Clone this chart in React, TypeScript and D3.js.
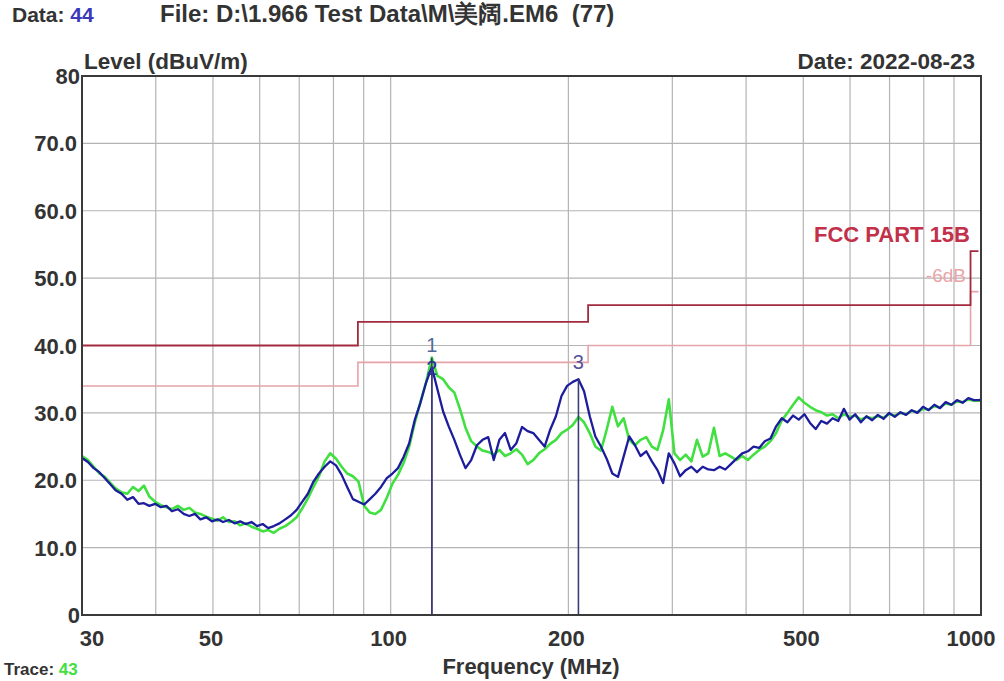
import React from "react";
import * as d3 from "d3";

const freqs = [30,30.7,31.4,32.1,32.8,33.5,34.2,35,35.8,36.6,37.4,38.2,39,39.9,40.8,41.7,42.6,43.6,44.6,45.6,46.6,47.6,48.7,49.8,50.9,52,53.2,54.4,55.6,56.8,58.1,59.4,60.7,62,63.4,64.8,66.3,67.8,69.3,70.8,72.4,74,75.6,77.3,79,80.8,82.6,84.4,86.3,88.2,90.2,92.2,94.2,96.3,98.5,100.7,102.9,105.2,107.5,109.9,112.3,114.8,117.4,120,122.7,125.4,128.2,131,133.9,136.9,140,143.1,146.3,149.5,152.8,156.2,159.7,163.3,166.9,170.6,174.4,178.3,182.3,186.3,190.5,194.7,199,203.5,208,212.6,217.4,222.2,227.1,232.2,237.4,242.7,248.1,253.6,259.3,265,271,277,283.1,289.4,295.9,302.5,309.2,316.1,323.1,330.3,337.7,345.2,352.9,360.8,368.8,377,385.4,394,402.8,411.8,421,430.3,439.9,449.7,459.8,470,480.5,491.2,502.1,513.3,524.7,536.4,548.4,560.6,573.1,585.8,598.9,612.2,625.9,639.8,654.1,668.7,683.6,698.8,714.4,730.3,746.6,763.2,780.2,797.6,815.4,833.6,852.2,871.2,890.6,910.5,930.8,951.5,972.7,994.4,1000];

// Data 44 (blue trace)
const levelsBlue = [
23.3,22.7,21.8,21.2,20.3,19.4,18.5,18.0,17.1,17.5,
16.5,16.6,16.2,16.5,16.0,16.2,15.4,15.7,15.0,14.7,
15.0,14.2,14.5,13.9,14.2,13.8,14.1,13.6,13.9,13.5,
13.8,13.2,13.5,12.9,13.2,13.6,14.2,14.8,15.6,16.8,
18.0,19.8,21.0,22.0,22.8,22.2,20.8,19.0,17.2,16.8,
16.4,17.2,18.0,19.0,20.3,21.0,21.8,23.5,25.5,29.0,
31.5,34.5,36.8,33.5,30.2,28.0,26.0,23.8,21.8,23.0,
25.2,26.0,26.4,23.0,26.0,27.0,24.5,25.5,27.9,27.3,
27.0,26.0,25.0,27.5,29.5,32.5,34.0,34.6,35.0,33.2,
29.5,26.5,25.0,23.2,21.0,20.5,23.5,26.5,25.2,23.6,
24.3,22.8,21.5,19.6,24.0,22.5,20.6,21.5,22.0,21.2,
22.0,21.6,21.5,22.0,21.6,22.4,23.2,24.0,24.3,25.0,
24.8,25.8,26.2,28.0,29.2,28.6,29.6,29.0,29.8,28.5,
27.6,28.8,28.4,29.2,28.8,30.6,29.0,29.8,28.6,29.5,
28.9,29.7,29.1,30.0,29.4,30.1,29.7,30.4,30.0,30.9,
30.4,31.2,30.7,31.6,31.2,31.9,31.5,32.2,31.9,31.9,32.0];

// Trace 43 (green trace)
const levelsGreen = [
23.6,23.0,22.0,21.0,20.5,19.6,18.8,18.2,18.0,19.0,
18.4,19.2,17.6,16.8,16.3,16.0,15.7,16.2,15.6,15.9,
15.2,15.0,14.6,14.3,14.0,14.5,13.8,13.9,13.3,13.6,
13.1,12.8,12.4,12.6,12.2,12.8,13.2,13.8,14.5,15.8,
17.3,19.0,20.6,22.8,24.0,23.2,22.0,21.0,20.6,19.8,
16.2,15.2,15.0,15.6,17.4,19.5,20.8,22.6,25.0,28.6,
31.6,34.5,38.2,35.5,35.0,33.8,33.0,30.6,27.8,25.8,
25.0,24.4,24.2,23.8,24.5,23.6,24.0,24.6,23.8,22.4,
23.0,24.0,24.6,25.4,26.0,27.0,27.5,28.2,29.4,28.6,
27.0,25.0,24.4,27.5,30.9,28.0,29.2,26.0,25.2,26.0,
26.4,25.0,24.5,27.4,32.0,24.0,23.0,23.8,22.8,26.0,
23.5,24.0,27.8,23.6,24.0,23.5,23.0,23.6,23.0,23.8,
24.5,25.0,25.8,27.0,28.9,30.0,31.2,32.3,31.5,30.9,
30.4,30.1,29.6,29.8,29.2,29.8,29.4,29.6,29.0,29.4,
29.2,29.5,29.3,29.8,29.6,30.0,29.8,30.3,30.1,30.6,
30.5,31.0,30.8,31.4,31.2,31.7,31.6,32.0,31.8,31.8,31.9];

const limitFreqs = [30, 88, 88, 216, 216, 960, 960, 990];
const limitLevels = [40, 40, 43.5, 43.5, 46, 46, 54, 54];
const marginLevels = [34, 34, 37.5, 37.5, 40, 40, 48, 48];

const markerIds = ["1", "2", "3"];
const markerFreqs = [117.4, 117.4, 208];
const markerLevels = [38.2, 36.8, 35.0];

const yTicks = [0, 10, 20, 30, 40, 50, 60, 70, 80];
const yTickLabels = ["0", "10.0", "20.0", "30.0", "40.0", "50.0", "60.0", "70.0", "80"];
const xTicks = [30, 50, 100, 200, 500, 1000];
const xTickLabels = ["30", "50", "100", "200", "500", "1000"];
const gridFreqs = [40, 50, 60, 70, 80, 90, 100, 200, 300, 400, 500, 600, 700, 800, 900];

const FONT = "'Liberation Sans Narrow', 'Arial Narrow', 'Liberation Sans', Arial, sans-serif";

export default function App() {
  const W = 1004, H = 681;
  const L = 82, R = 981, T = 76, B = 615;
  const x = d3.scaleLog().domain([30, 1000]).range([L, R]);
  const y = d3.scaleLinear().domain([0, 80]).range([B, T]);

  const trace = (lv: number[]) =>
    d3.line<number>().x((_, i) => x(freqs[i])).y((d) => y(d))(lv) || "";
  const step = (lv: number[]) =>
    d3.line<number>().x((_, i) => x(limitFreqs[i])).y((d) => y(d))(lv) || "";

  const markerColors = ["#4f6a98", "#2b2f94", "#55509c"];
  const markerDy = [-6, 8, -10];

  return (
    <svg width={W} height={H} style={{ position: "absolute", left: 0, top: 0, background: "#fff" }}
      fontFamily={FONT}>
      <rect x={0} y={0} width={W} height={H} fill="#fff" />
      {/* grid */}
      {yTicks.slice(1, -1).map((t) => (
        <line key={"gy" + t} x1={L} x2={R} y1={y(t)} y2={y(t)} stroke="#b4b4b4" strokeWidth={1.2} />
      ))}
      {gridFreqs.map((f) => (
        <line key={"gx" + f} x1={x(f)} x2={x(f)} y1={T} y2={B} stroke="#b4b4b4" strokeWidth={1.2} />
      ))}
      {/* limit lines */}
      <path d={step(marginLevels)} fill="none" stroke="#e6a3aa" strokeWidth={1.6} />
      <path d={step(limitLevels)} fill="none" stroke="#a32a3e" strokeWidth={1.8} />
      {/* traces */}
      <path d={trace(levelsGreen)} fill="none" stroke="#3fe03f" strokeWidth={2.6} strokeLinejoin="round" />
      <path d={trace(levelsBlue)} fill="none" stroke="#1c1c9c" strokeWidth={2.3} strokeLinejoin="round" />
      {/* markers */}
      {markerIds.map((m, i) => (
        <line key={"ml" + m} x1={x(markerFreqs[i])} x2={x(markerFreqs[i])} y1={y(markerLevels[i])} y2={B}
          stroke="#3c3c78" strokeWidth={1.6} />
      ))}
      {markerIds.map((m, i) => (
        <text key={"mt" + m} x={x(markerFreqs[i])} y={y(markerLevels[i]) + markerDy[i]} textAnchor="middle"
          fontSize={20} fill={markerColors[i]}>{m}</text>
      ))}
      {/* frame */}
      <rect x={L} y={T} width={R - L} height={B - T} fill="none" stroke="#3a3a3a" strokeWidth={2} />
      {/* y tick labels */}
      {yTicks.map((t, i) => (
        <text key={"yl" + t} x={t === 0 || t === 80 ? L - 2 : L - 5} y={y(t) + 8} textAnchor="end"
          fontSize={22} fontWeight="bold" fill="#333">{yTickLabels[i]}</text>
      ))}
      {/* x tick labels */}
      {xTicks.map((t, i) => (
        <text key={"xl" + t} x={t === 30 ? x(t) + 10 : t === 1000 ? x(t) - 10 : x(t) - 2} y={646}
          textAnchor="middle" fontSize={22} fontWeight="bold" fill="#333">{xTickLabels[i]}</text>
      ))}
      {/* limit labels */}
      <text x={970} y={242} textAnchor="end" fontSize={22} fontWeight="bold" fill="#c2304a">FCC PART 15B</text>
      <text x={966} y={282} textAnchor="end" fontSize={19} fill="#eaa4a8">-6dB</text>
      {/* titles */}
      <text x={12} y={22} fontSize={21} fontWeight="bold" fill="#333">Data: <tspan fill="#3a3ab8">44</tspan></text>
      <text x={160} y={22} fontSize={24} fontWeight="bold" fill="#333" xmlSpace="preserve">{"File: D:\\1.966 Test Data\\M\\美阔.EM6  (77)"}</text>
      <text x={84} y={69} fontSize={22.5} fontWeight="bold" fill="#333">Level (dBuV/m)</text>
      <text x={975} y={69} textAnchor="end" fontSize={22.5} fontWeight="bold" fill="#333">Date: 2022-08-23</text>
      <text x={531} y={674} textAnchor="middle" fontSize={22} fontWeight="bold" fill="#333">Frequency (MHz)</text>
      <text x={4} y={675} fontSize={17} fontWeight="bold" fill="#333">Trace: <tspan fill="#3fe03f">43</tspan></text>
    </svg>
  );
}
